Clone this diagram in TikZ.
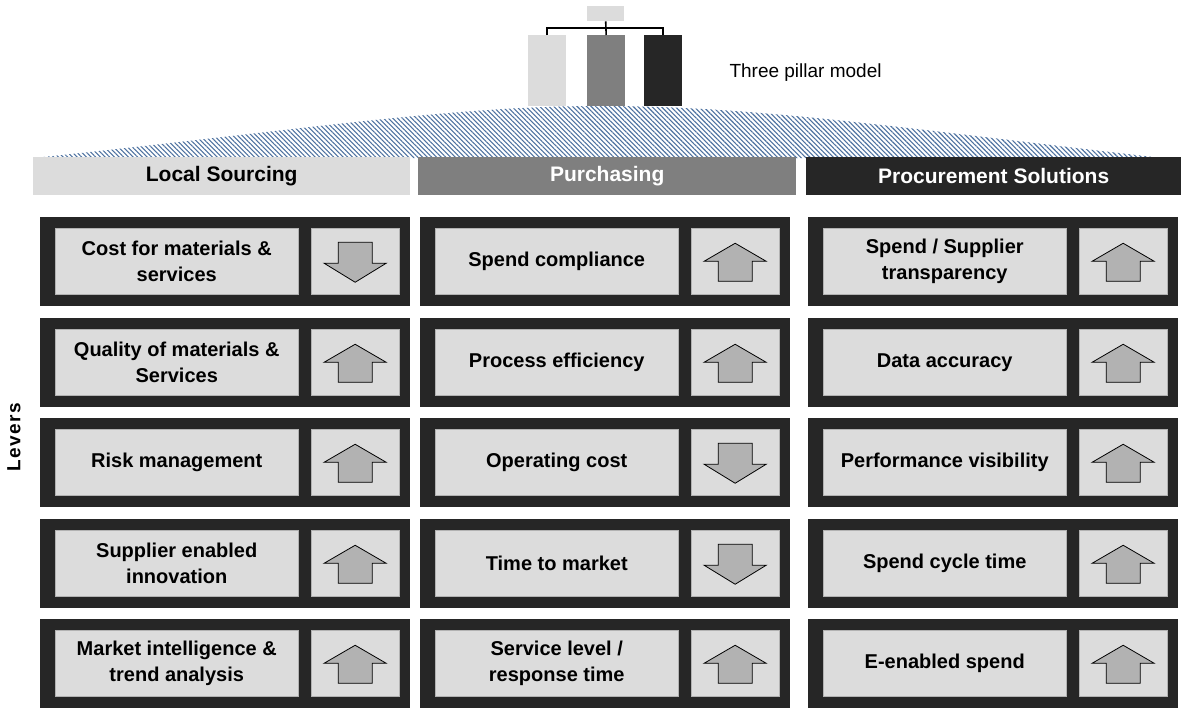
\documentclass[tikz,border=0pt]{standalone}
\usepackage{fontspec}
\setmainfont{Liberation Sans}
\usetikzlibrary{patterns.meta}
\definecolor{lightbar}{HTML}{DCDCDC}
\definecolor{midbar}{HTML}{7F7F7F}
\definecolor{darkbar}{HTML}{262626}
\definecolor{arrowgray}{HTML}{B2B2B2}
\definecolor{hatchblue}{HTML}{4E72A0}
\begin{document}
\begin{tikzpicture}[x=1pt,y=-1pt]
\tikzset{pillar/.style={minimum width=38pt, minimum height=71pt, inner sep=0, anchor=north west},
  bar/.style={minimum height=38pt, inner sep=0, anchor=north west, font=\fontsize{21}{21}\selectfont\bfseries},
  lever/.style={fill=darkbar, minimum width=370pt, minimum height=89pt, inner sep=0, anchor=north west},
  txtbox/.style={fill=lightbar, draw=gray!60, line width=0.5pt, minimum width=243pt, minimum height=66pt, inner sep=0, align=center, anchor=north west, font=\fontsize{20}{26}\selectfont\bfseries},
  arrbox/.style={fill=lightbar, draw=gray!60, line width=0.5pt, minimum width=88pt, minimum height=66pt, inner sep=0, anchor=north east},
  blockarrow/.style={fill=arrowgray, draw=black, line width=0.8pt, line join=miter}}
\useasboundingbox (0,0) rectangle (1181,710);

% three pillar model
\node[fill=lightbar, minimum width=37pt, minimum height=15pt, inner sep=0, anchor=north west] (top) at (587,6) {};
\node[pillar, fill=lightbar] (p1) at (528,35) {};
\node[pillar, fill=midbar] (p2) at (587,35) {};
\node[pillar, fill=darkbar] (p3) at (644,35) {};
\draw[line width=1.6pt] (p1.north) -- ++(0,-7) -| (p3.north);
\draw[line width=1.6pt] (top.south) -- (p2.north);
\node[anchor=west, font=\fontsize{19}{19}\selectfont] (model) at (726,73) {Three pillar model};

% hatched roof
\fill[pattern={Lines[angle=-45,distance=3.3pt,line width=1.1pt]}, pattern color=hatchblue]
  (34,158) .. controls (300,130) and (450,106) .. (600,106) .. controls (760,106) and (900,128) .. (1162,158) -- cycle;

% pillar headers
\node[bar, fill=lightbar, minimum width=377pt] (ls) at (33,157) {Local Sourcing};
\node[bar, fill=midbar, minimum width=378pt, text=white] (pu) at (418,157) {Purchasing};
\node[bar, fill=darkbar, minimum width=375pt, text=white] (ps) at (806,157) {Procurement Solutions};

\node[rotate=90, font=\fontsize{19}{19}\selectfont\bfseries\addfontfeature{LetterSpace=8}] (levers) at (14,437) {Levers};

% Local Sourcing
\node[lever] (ls1) at (40,217) {};
\node[lever] (ls2) at (40,318) {};
\node[lever] (ls3) at (40,418) {};
\node[lever] (ls4) at (40,519) {};
\node[lever] (ls5) at (40,619) {};
\node[txtbox] (ls1-txt) at ([shift={(15,11)}]ls1.north west) {Cost for materials \&\\services};
\node[txtbox] (ls2-txt) at ([shift={(15,11)}]ls2.north west) {Quality of materials \&\\Services};
\node[txtbox] (ls3-txt) at ([shift={(15,11)}]ls3.north west) {Risk management};
\node[txtbox] (ls4-txt) at ([shift={(15,11)}]ls4.north west) {Supplier enabled\\innovation};
\node[txtbox] (ls5-txt) at ([shift={(15,11)}]ls5.north west) {Market intelligence \&\\trend analysis};
\node[arrbox] (ls1-arr) at ([shift={(-11,11)}]ls1.north east) {};
\node[arrbox] (ls2-arr) at ([shift={(-11,11)}]ls2.north east) {};
\node[arrbox] (ls3-arr) at ([shift={(-11,11)}]ls3.north east) {};
\node[arrbox] (ls4-arr) at ([shift={(-11,11)}]ls4.north east) {};
\node[arrbox] (ls5-arr) at ([shift={(-11,11)}]ls5.north east) {};

% Purchasing
\node[lever] (pu1) at (420,217) {};
\node[lever] (pu2) at (420,318) {};
\node[lever] (pu3) at (420,418) {};
\node[lever] (pu4) at (420,519) {};
\node[lever] (pu5) at (420,619) {};
\node[txtbox] (pu1-txt) at ([shift={(15,11)}]pu1.north west) {Spend compliance};
\node[txtbox] (pu2-txt) at ([shift={(15,11)}]pu2.north west) {Process efficiency};
\node[txtbox] (pu3-txt) at ([shift={(15,11)}]pu3.north west) {Operating cost};
\node[txtbox] (pu4-txt) at ([shift={(15,11)}]pu4.north west) {Time to market};
\node[txtbox] (pu5-txt) at ([shift={(15,11)}]pu5.north west) {Service level /\\response time};
\node[arrbox] (pu1-arr) at ([shift={(-11,11)}]pu1.north east) {};
\node[arrbox] (pu2-arr) at ([shift={(-11,11)}]pu2.north east) {};
\node[arrbox] (pu3-arr) at ([shift={(-11,11)}]pu3.north east) {};
\node[arrbox] (pu4-arr) at ([shift={(-11,11)}]pu4.north east) {};
\node[arrbox] (pu5-arr) at ([shift={(-11,11)}]pu5.north east) {};

% Procurement Solutions
\node[lever] (ps1) at (808,217) {};
\node[lever] (ps2) at (808,318) {};
\node[lever] (ps3) at (808,418) {};
\node[lever] (ps4) at (808,519) {};
\node[lever] (ps5) at (808,619) {};
\node[txtbox] (ps1-txt) at ([shift={(15,11)}]ps1.north west) {Spend / Supplier\\transparency};
\node[txtbox] (ps2-txt) at ([shift={(15,11)}]ps2.north west) {Data accuracy};
\node[txtbox] (ps3-txt) at ([shift={(15,11)}]ps3.north west) {Performance visibility};
\node[txtbox] (ps4-txt) at ([shift={(15,11)}]ps4.north west) {Spend cycle time};
\node[txtbox] (ps5-txt) at ([shift={(15,11)}]ps5.north west) {E-enabled spend};
\node[arrbox] (ps1-arr) at ([shift={(-11,11)}]ps1.north east) {};
\node[arrbox] (ps2-arr) at ([shift={(-11,11)}]ps2.north east) {};
\node[arrbox] (ps3-arr) at ([shift={(-11,11)}]ps3.north east) {};
\node[arrbox] (ps4-arr) at ([shift={(-11,11)}]ps4.north east) {};
\node[arrbox] (ps5-arr) at ([shift={(-11,11)}]ps5.north east) {};

% down arrows
\draw[blockarrow, shift={(ls1-arr.center)}] (-17,-19) -- (-17,2) -- (-31,2) -- (0,21) -- (31,2) -- (17,2) -- (17,-19) -- cycle;
\draw[blockarrow, shift={(pu3-arr.center)}] (-17,-19) -- (-17,2) -- (-31,2) -- (0,21) -- (31,2) -- (17,2) -- (17,-19) -- cycle;
\draw[blockarrow, shift={(pu4-arr.center)}] (-17,-19) -- (-17,2) -- (-31,2) -- (0,21) -- (31,2) -- (17,2) -- (17,-19) -- cycle;
% up arrows
\draw[blockarrow, shift={(ls2-arr.center)}] (-17,20) -- (-17,0) -- (-31,0) -- (0,-18) -- (31,0) -- (17,0) -- (17,20) -- cycle;
\draw[blockarrow, shift={(ls3-arr.center)}] (-17,20) -- (-17,0) -- (-31,0) -- (0,-18) -- (31,0) -- (17,0) -- (17,20) -- cycle;
\draw[blockarrow, shift={(ls4-arr.center)}] (-17,20) -- (-17,0) -- (-31,0) -- (0,-18) -- (31,0) -- (17,0) -- (17,20) -- cycle;
\draw[blockarrow, shift={(ls5-arr.center)}] (-17,20) -- (-17,0) -- (-31,0) -- (0,-18) -- (31,0) -- (17,0) -- (17,20) -- cycle;
\draw[blockarrow, shift={(pu1-arr.center)}] (-17,20) -- (-17,0) -- (-31,0) -- (0,-18) -- (31,0) -- (17,0) -- (17,20) -- cycle;
\draw[blockarrow, shift={(pu2-arr.center)}] (-17,20) -- (-17,0) -- (-31,0) -- (0,-18) -- (31,0) -- (17,0) -- (17,20) -- cycle;
\draw[blockarrow, shift={(pu5-arr.center)}] (-17,20) -- (-17,0) -- (-31,0) -- (0,-18) -- (31,0) -- (17,0) -- (17,20) -- cycle;
\draw[blockarrow, shift={(ps1-arr.center)}] (-17,20) -- (-17,0) -- (-31,0) -- (0,-18) -- (31,0) -- (17,0) -- (17,20) -- cycle;
\draw[blockarrow, shift={(ps2-arr.center)}] (-17,20) -- (-17,0) -- (-31,0) -- (0,-18) -- (31,0) -- (17,0) -- (17,20) -- cycle;
\draw[blockarrow, shift={(ps3-arr.center)}] (-17,20) -- (-17,0) -- (-31,0) -- (0,-18) -- (31,0) -- (17,0) -- (17,20) -- cycle;
\draw[blockarrow, shift={(ps4-arr.center)}] (-17,20) -- (-17,0) -- (-31,0) -- (0,-18) -- (31,0) -- (17,0) -- (17,20) -- cycle;
\draw[blockarrow, shift={(ps5-arr.center)}] (-17,20) -- (-17,0) -- (-31,0) -- (0,-18) -- (31,0) -- (17,0) -- (17,20) -- cycle;
\end{tikzpicture}
\end{document}
